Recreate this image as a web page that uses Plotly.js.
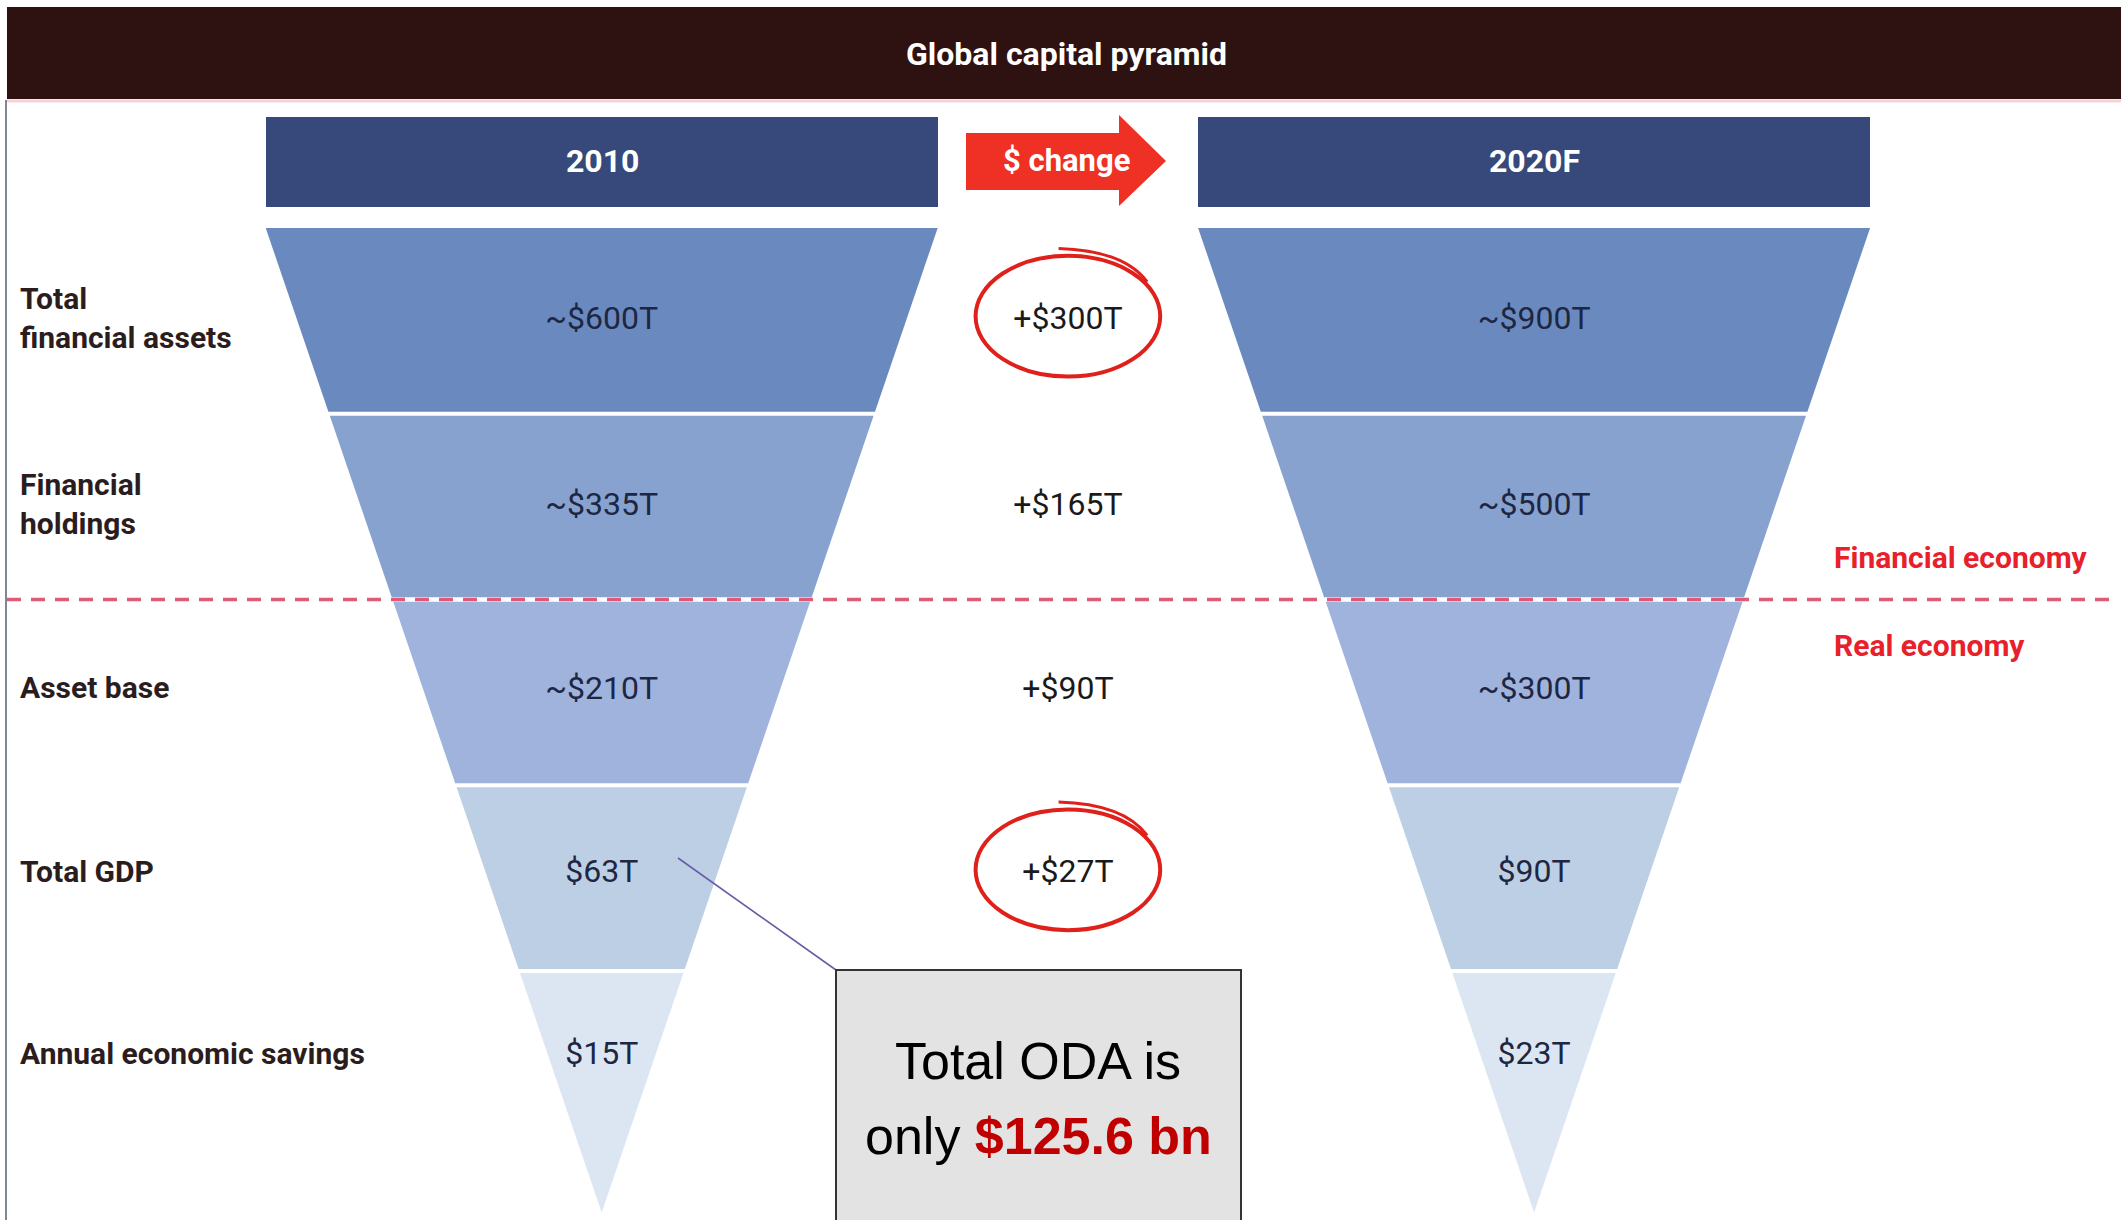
<!DOCTYPE html>
<html><head><meta charset="utf-8">
<script src="https://cdn.plot.ly/plotly-3.0.1.min.js"></script>
<style>html,body{margin:0;padding:0;background:#fff;overflow:hidden}#chart{width:2125px;height:1220px}</style>
</head><body><div id="chart"></div>
<script>
// ---------------- data ----------------
const chartTitle = "Global capital pyramid";
const columnLabels = ["2010", "$ change", "2020F"];
const categories = ["Total<br>financial assets", "Financial<br>holdings", "Asset base", "Total GDP", "Annual economic savings"];
const values2010 = [600, 335, 210, 63, 15];
const values2020F = [900, 500, 300, 90, 23];
const changeValues = [300, 165, 90, 27, null];
const approximate = [true, true, true, false, false];
const circled = [true, false, false, true, false];
const economyLabels = ["Financial economy", "Real economy"];
const odaValue = 125.6;

// ---------------- geometry / style ----------------
const W = 2125, H = 1220;
const PXX = 466.2, X0PX = 135.5;          // x: column index units
const PXY = 185.75, Y0PX = 228;           // y: funnel level units
const xRange = [-X0PX / PXX, (W - X0PX) / PXX];
const yRange = [(H - Y0PX) / PXY, -Y0PX / PXY];
const colX = [1, 2, 3];
const bounds = [0, 1, 2, 3, 4, 5.3];
const topHalf = 0.7207;
const hw = y => topHalf * (bounds[5] - y) / bounds[5];
const labelLevel = [0.5, 1.5, 2.49, 3.48, 4.46];
const gap = 0.011;
const segColors = ['#6a8abf', '#87a2cf', '#a0b3dc', '#bdcfe4', '#dce6f3'];
const COND = 'Roboto, "Liberation Sans", sans-serif';
const ARIAL = '"Liberation Sans", Arial, sans-serif';
const px2x = p => (p - X0PX) / PXX;
const px2y = p => (p - Y0PX) / PXY;
const PX = x => x / W, PY = y => 1 - y / H;

const fmt = (v, approx) => (approx ? "~" : "") + "$" + v + "T";

const traces = [];
// funnels
[[colX[0], values2010], [colX[2], values2020F]].forEach(([cx, vals]) => {
  vals.forEach((v, i) => {
    const y0 = bounds[i] + (i > 0 ? gap : 0);
    const y1 = bounds[i + 1] - (i < vals.length - 1 ? gap : 0);
    const h0 = hw(y0), h1 = hw(y1);
    traces.push({
      type: 'scatter', mode: 'lines', hoverinfo: 'skip',
      x: [cx - h0, cx + h0, cx + h1, cx - h1, cx - h0],
      y: [y0, y0, y1, y1, y0],
      fill: 'toself', fillcolor: segColors[i], line: {width: 0}
    });
  });
  traces.push({
    type: 'scatter', mode: 'text', hoverinfo: 'skip',
    x: vals.map(() => cx), y: labelLevel,
    text: vals.map((v, i) => fmt(v, approximate[i])),
    textposition: 'middle center',
    textfont: {family: COND, size: 32, color: '#1d2642'}
  });
});
// change column
traces.push({
  type: 'scatter', mode: 'text', hoverinfo: 'skip',
  x: changeValues.map(() => colX[1]), y: labelLevel,
  text: changeValues.map(v => v === null ? "" : "+$" + v + "T"),
  textposition: 'middle center',
  textfont: {family: COND, size: 32, color: '#1a1a1a'}
});
// category labels
traces.push({
  type: 'scatter', mode: 'text', hoverinfo: 'skip',
  x: categories.map(() => px2x(20)), y: labelLevel,
  text: categories.map(c => "<b>" + c + "</b>"),
  textposition: 'middle right',
  textfont: {family: COND, size: 30, color: '#2b1d1d'}
});

const shapes = [
  // left edge line
  {type: 'line', xref: 'paper', yref: 'paper', x0: PX(6), x1: PX(6), y0: PY(100), y1: PY(1220), line: {color: '#55606e', width: 1.5}},
  // title bar
  {type: 'rect', xref: 'paper', yref: 'paper', x0: PX(7), x1: PX(2121), y0: PY(99), y1: PY(7), fillcolor: '#2e1212', line: {width: 0}},
  {type: 'line', xref: 'paper', yref: 'paper', x0: PX(7), x1: PX(2121), y0: PY(101), y1: PY(101), line: {color: '#f2d3da', width: 3}},
  // headers
  {type: 'rect', xref: 'paper', yref: 'paper', x0: PX(266), x1: PX(938), y0: PY(207), y1: PY(117), fillcolor: '#36497a', line: {width: 0}},
  {type: 'rect', xref: 'paper', yref: 'paper', x0: PX(1198), x1: PX(1870), y0: PY(207), y1: PY(117), fillcolor: '#36497a', line: {width: 0}},
  // arrow
  {type: 'path', xref: 'paper', yref: 'paper', fillcolor: '#ee3124', line: {width: 0},
   path: 'M' + [[966,133],[1119,133],[1119,115],[1166,161],[1119,206],[1119,190],[966,190]].map(p => PX(p[0]) + ',' + PY(p[1])).join(' L') + ' Z'},
  // dashed divider (white under, pink dashes over)
  {type: 'line', xref: 'paper', yref: 'y', x0: PX(7), x1: PX(2114), y0: bounds[2], y1: bounds[2], line: {color: '#ffffff', width: 4}},
  {type: 'line', xref: 'paper', yref: 'y', x0: PX(7), x1: PX(2114), y0: bounds[2], y1: bounds[2], line: {color: '#e05a78', width: 3.5, dash: '14px,10px'}},
  // callout connector + box
  {type: 'line', xref: 'paper', yref: 'paper', x0: PX(678), y0: PY(858), x1: PX(836), y1: PY(970), line: {color: '#6b5ca5', width: 1.6}},
  {type: 'rect', xref: 'paper', yref: 'paper', x0: PX(836), x1: PX(1241), y0: PY(1230), y1: PY(970), fillcolor: '#e3e3e3', line: {color: '#333333', width: 2}}
];
// red hand-drawn circles
circled.forEach((c, i) => {
  if (!c) return;
  const cy = labelLevel[i] - 0.03;
  shapes.push({type: 'circle', xref: 'x', yref: 'y', x0: colX[1] - 0.198, x1: colX[1] + 0.198, y0: cy - 0.32, y1: cy + 0.33, line: {color: '#e0201a', width: 4}});
  shapes.push({type: 'path', xref: 'x', yref: 'y', line: {color: '#e0201a', width: 3},
    path: `M ${colX[1] - 0.02},${cy - 0.36} Q ${colX[1] + 0.12},${cy - 0.35} ${colX[1] + 0.17},${cy - 0.18}`});
});

const ann = (x, y, text, font, extra) => Object.assign({xref: 'paper', yref: 'paper', x: x, y: y, text: text, showarrow: false, xanchor: 'center', yanchor: 'middle', font: font}, extra || {});
const annotations = [
  ann(PX(1066), PY(54), '<b>' + chartTitle + '</b>', {family: COND, size: 32, color: '#ffffff'}),
  ann(PX(602), PY(161), '<b>' + columnLabels[0] + '</b>', {family: COND, size: 32, color: '#ffffff'}),
  ann(PX(1066), PY(160), '<b>' + columnLabels[1] + '</b>', {family: COND, size: 31, color: '#ffffff'}),
  ann(PX(1534), PY(161), '<b>' + columnLabels[2] + '</b>', {family: COND, size: 32, color: '#ffffff'}),
  ann(PX(1832), px2y(557), '<b>' + economyLabels[0] + '</b>', {family: COND, size: 30, color: '#e8202a'}, {yref: 'y', xanchor: 'left'}),
  ann(PX(1832), px2y(645), '<b>' + economyLabels[1] + '</b>', {family: COND, size: 30, color: '#e8202a'}, {yref: 'y', xanchor: 'left'}),
  ann(PX(1038), PY(1061), 'Total ODA is', {family: ARIAL, size: 52, color: '#000000'}),
  ann(PX(1038), PY(1136), 'only <b><span style="color:#c00000">$' + odaValue + ' bn</span></b>', {family: ARIAL, size: 52, color: '#000000'})
];

const layout = {
  width: W, height: H, autosize: false,
  margin: {l: 0, r: 0, t: 0, b: 0, pad: 0},
  paper_bgcolor: '#ffffff', plot_bgcolor: '#ffffff',
  showlegend: false,
  xaxis: {range: xRange, visible: false, fixedrange: true},
  yaxis: {range: yRange, visible: false, fixedrange: true},
  shapes: shapes, annotations: annotations
};
Plotly.newPlot('chart', traces, layout, {displayModeBar: false, staticPlot: true});
</script>
</body></html>
